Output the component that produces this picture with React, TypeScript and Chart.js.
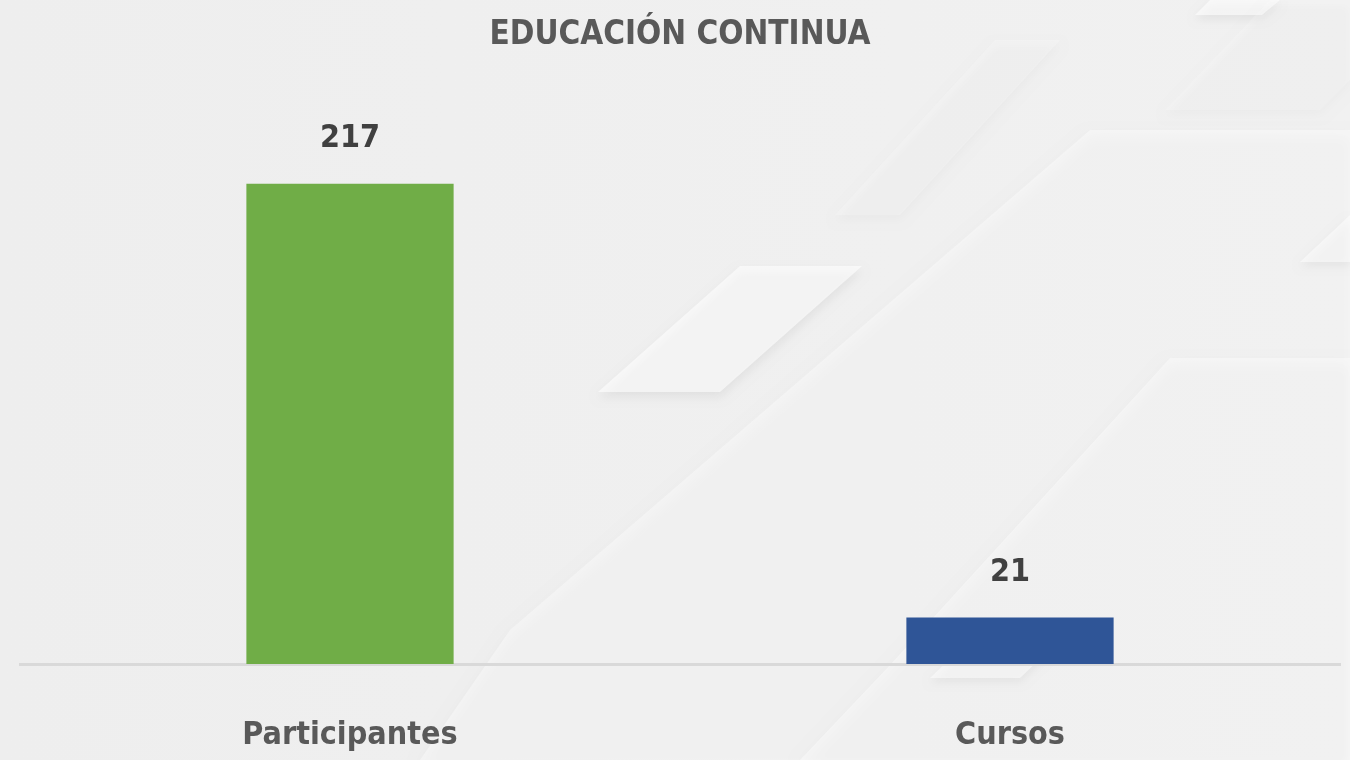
import React, { useEffect, useRef } from "react";
import { Chart, registerables } from "chart.js";

Chart.register(...registerables);

const categories = ["Participantes", "Cursos"];
const values = [217, 21];
const barColors = ["#70AD47", "#2F5597"];
const chartTitle = "EDUCACIÓN CONTINUA";

const FONT = "'DejaVu Sans Condensed', 'Liberation Sans Narrow', sans-serif";

const backgroundPlugin = {
  id: "bgDecor",
  beforeDraw(chart: any) {
    const { ctx, width, height } = chart;
    ctx.save();
    const g = ctx.createLinearGradient(0, 0, width, 0);
    g.addColorStop(0, "#eeeeee");
    g.addColorStop(1, "#f1f1f1");
    ctx.fillStyle = g;
    ctx.fillRect(0, 0, width, height);

    const poly = (pts: number[][], fill: string, shadow = 0) => {
      ctx.save();
      if (shadow) {
        ctx.shadowColor = "rgba(0,0,0,0.10)";
        ctx.shadowBlur = shadow;
        ctx.shadowOffsetY = shadow / 2;
      }
      ctx.beginPath();
      ctx.moveTo(pts[0][0], pts[0][1]);
      for (let i = 1; i < pts.length; i++) ctx.lineTo(pts[i][0], pts[i][1]);
      ctx.closePath();
      ctx.fillStyle = fill;
      ctx.fill();
      ctx.restore();
    };

    poly([[510, 630], [1090, 130], [1350, 130], [1350, 760], [420, 760]], "rgba(255,255,255,0.4)", 14);
    poly([[890, 665], [1170, 358], [1350, 358], [1350, 760], [800, 760]], "rgba(255,255,255,0.4)", 14);
    poly([[598, 392], [720, 392], [862, 266], [740, 266]], "rgba(255,255,255,0.6)", 10);
    poly([[835, 215], [900, 215], [1060, 40], [995, 40]], "rgba(255,255,255,0.22)", 10);
    poly([[1195, 15], [1262, 15], [1280, 0], [1210, 0]], "rgba(255,255,255,0.6)", 8);
    poly([[1300, 262], [1350, 262], [1350, 215]], "rgba(255,255,255,0.5)", 8);
    poly([[930, 678], [1020, 678], [1060, 640], [970, 640]], "rgba(255,255,255,0.5)", 8);
    poly([[1165, 110], [1320, 110], [1350, 80], [1350, 0], [1270, 0]], "rgba(255,255,255,0.18)", 10);
    ctx.restore();
  },
};

const valueLabelPlugin = {
  id: "valueLabels",
  afterDatasetsDraw(chart: any) {
    const { ctx } = chart;
    const meta = chart.getDatasetMeta(0);
    ctx.save();
    ctx.font = `bold 32px ${FONT}`;
    ctx.fillStyle = "#404040";
    ctx.textAlign = "center";
    ctx.textBaseline = "middle";
    meta.data.forEach((bar: any, i: number) => {
      ctx.fillText(String(values[i]), bar.x, bar.y - 45);
    });
    ctx.restore();
  },
};

export default function App() {
  const ref = useRef<HTMLCanvasElement>(null);
  useEffect(() => {
    document.body.style.margin = "0";
    if (!ref.current) return;
    const chart = new Chart(ref.current, {
      type: "bar",
      data: {
        labels: categories,
        datasets: [
          {
            data: values,
            backgroundColor: barColors,
            borderWidth: 0,
            barPercentage: 0.314,
            categoryPercentage: 1,
          },
        ],
      },
      options: {
        animation: false,
        responsive: false,
        layout: { padding: { left: 20, right: 10, top: 0, bottom: 0 } },
        plugins: {
          legend: { display: false },
          tooltip: { enabled: false },
          title: {
            display: true,
            text: chartTitle,
            color: "#595959",
            font: { family: FONT, size: 33, weight: "bold", lineHeight: 1.2 },
            padding: { top: 16, bottom: 55 },
          },
        },
        scales: {
          x: {
            grid: { display: false, drawTicks: false },
            border: { display: true, color: "#d9d9d9", width: 3 },
            ticks: {
              color: "#595959",
              font: { family: FONT, size: 32, weight: "bold", lineHeight: 1.2 },
              padding: 52,
              maxRotation: 0,
            },
            afterFit: (scale: any) => {
              scale.height = 96;
            },
          },
          y: {
            display: false,
            min: 0,
            max: 250,
          },
        },
      },
      plugins: [backgroundPlugin, valueLabelPlugin],
    });
    return () => chart.destroy();
  }, []);
  return (
    <div style={{ width: 1350, height: 760 }}>
      <canvas ref={ref} width={1350} height={760} style={{ display: "block" }} />
    </div>
  );
}
